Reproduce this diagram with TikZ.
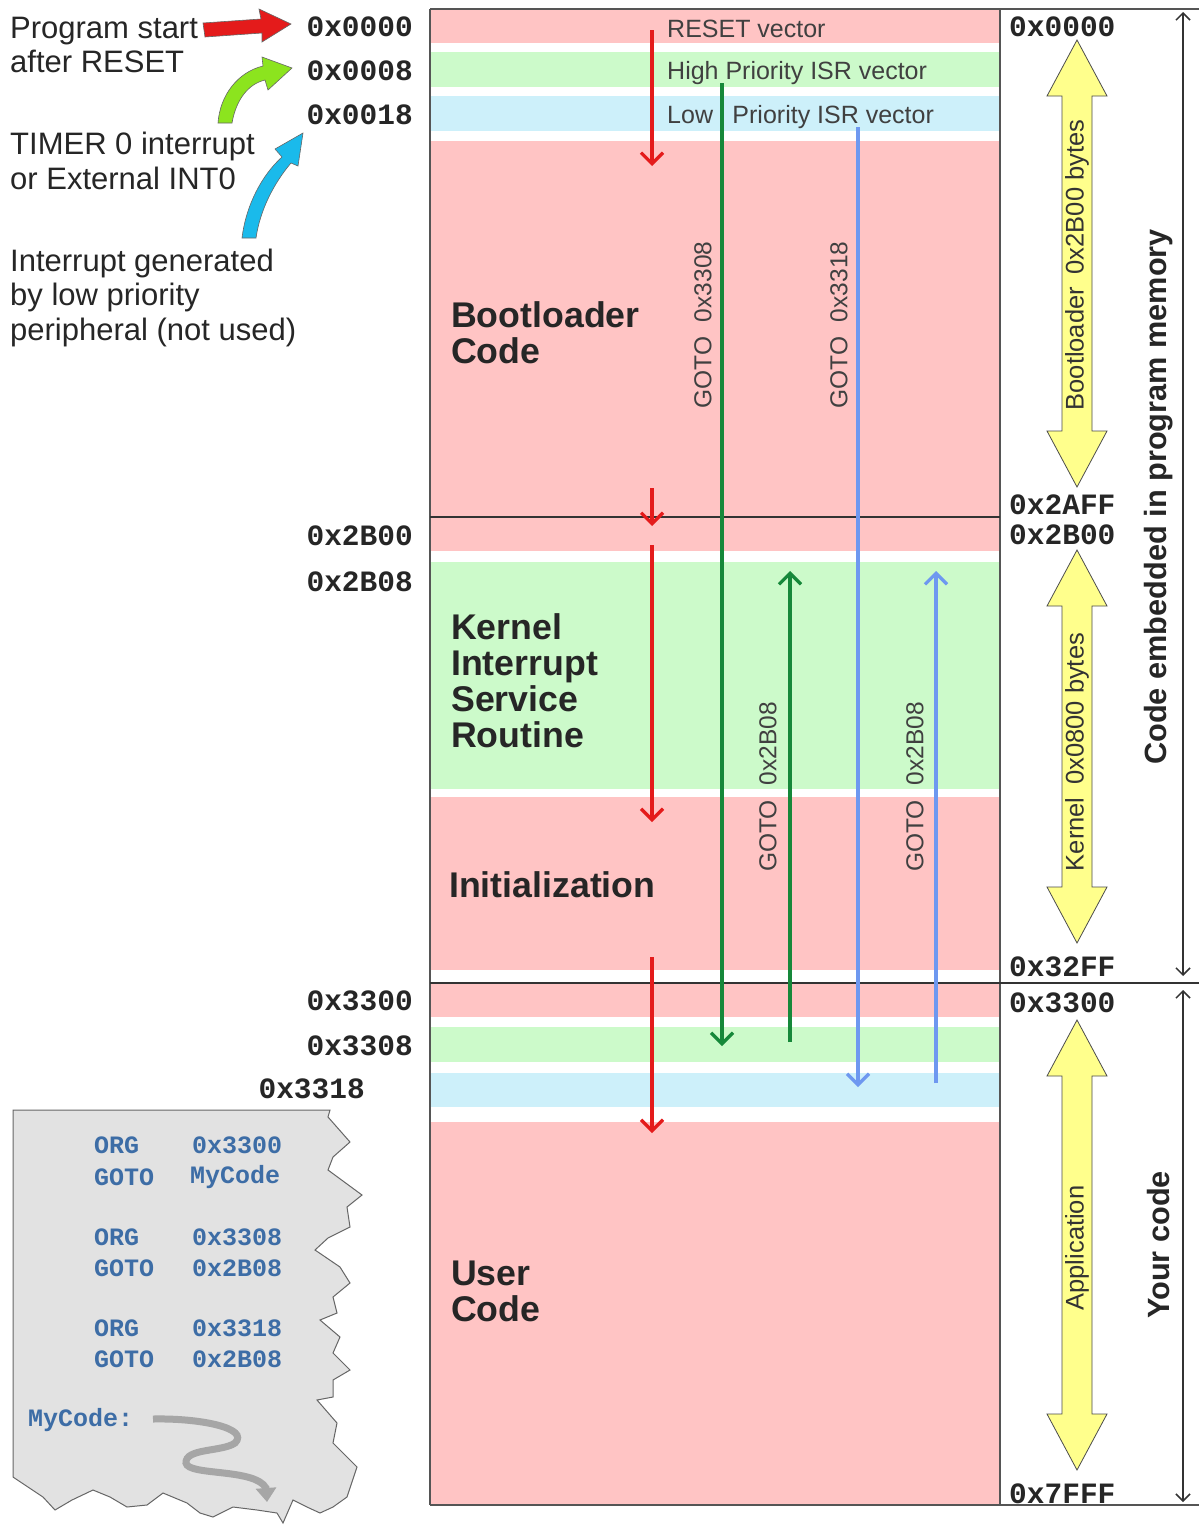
\documentclass[tikz,border=0pt]{standalone}
\usepackage{fontspec}
\setmainfont{Liberation Sans}
\setmonofont{Liberation Mono}
\usetikzlibrary{arrows.meta}
\definecolor{mpink}{HTML}{FFC4C4}
\definecolor{mgreen}{HTML}{CCFACA}
\definecolor{mblue}{HTML}{CDF0FA}
\definecolor{ared}{HTML}{E41B1B}
\definecolor{agreen}{HTML}{16883A}
\definecolor{ablue}{HTML}{6E98F0}
\definecolor{frame}{HTML}{555555}
\definecolor{ayellow}{HTML}{FFFF8C}
\definecolor{codeblue}{HTML}{3D6DA6}
\definecolor{paper}{HTML}{E2E2E2}
\begin{document}
\begin{tikzpicture}[x=1pt,y=-1pt,
  hexl/.style={font=\fontsize{29.5}{32}\selectfont\ttfamily\bfseries, text=black!85, inner sep=0},
  lefttxt/.style={font=\fontsize{31}{34}\selectfont, anchor=base west, inner sep=0, text=black!85},
  vectxt/.style={font=\fontsize{25}{28}\selectfont, anchor=base west, inner sep=0, text=black!75},
  bigtxt/.style={font=\fontsize{35.7}{36}\selectfont\bfseries, anchor=north west, inner sep=0, align=left, text=black!85},
  gototxt/.style={font=\fontsize{24.5}{26}\selectfont, rotate=90, inner sep=0, text=black!75},
  yeltxt/.style={font=\fontsize{25.5}{27}\selectfont, rotate=90, inner sep=0, text=black!80},
  sidetxt/.style={font=\fontsize{30.7}{34}\selectfont\bfseries, rotate=90, inner sep=0, text=black!85},
  codetxt/.style={font=\fontsize{25}{28}\selectfont\ttfamily\bfseries, text=codeblue, anchor=west, inner sep=0},
  flowarrow/.style={line width=3.5pt, -{Straight Barb[length=11pt,width=22pt,line width=3.2pt]}},
  yarrow/.style={draw=black!70, line width=0.8pt, fill=ayellow},
  dimarrow/.style={line width=1.5pt, black!80, {Straight Barb[length=7pt,width=14pt]}-{Straight Barb[length=7pt,width=14pt]}},
  blockarrow/.style={draw=black!60, line width=0.6pt}
]
\useasboundingbox (0,0) rectangle (1199,1531);
\fill[white] (0,0) rectangle (1199,1531);

% ---------------- memory bands ----------------
\fill[mpink]  (430,9)   rectangle (1000,43);
\fill[mgreen] (430,52)  rectangle (1000,87);
\fill[mblue]  (430,96)  rectangle (1000,131);
\fill[mpink]  (430,141) rectangle (1000,551);
\fill[mgreen] (430,562) rectangle (1000,789);
\fill[mpink]  (430,797) rectangle (1000,970);
\fill[mpink]  (430,983) rectangle (1000,1017);
\fill[mgreen] (430,1027) rectangle (1000,1062);
\fill[mblue]  (430,1073) rectangle (1000,1107);
\fill[mpink]  (430,1122) rectangle (1000,1505);

% frame lines
\draw[frame, line width=1.2pt] (430,9) -- (1199,9);
\draw[frame, line width=1.2pt] (430,9) -- (430,1505);
\draw[frame, line width=1.2pt] (1000,9) -- (1000,1505);
\draw[frame, line width=1.2pt] (430,1505) -- (1199,1505);
\draw[black!80, line width=1.2pt] (430,517) -- (1000,517);
\draw[black!80, line width=1.2pt] (430,983) -- (1199,983);

% ---------------- vector labels ----------------
\node[vectxt] (vreset) at (667,37) {RESET vector};
\node[vectxt] (vhigh) at (667,79) {High Priority ISR vector};
\node[vectxt] (vlow) at (667,123) {Low\hspace{0.5em} Priority ISR vector};

% ---------------- big labels ----------------
\node[bigtxt] (boot) at (451,301) {Bootloader\\Code};
\node[bigtxt] (kern) at (451,613) {Kernel\\Interrupt\\Service\\Routine};
\node[bigtxt] (init) at (449,871) {Initialization};
\node[bigtxt] (user) at (451,1261) {User\\Code};

% ---------------- flow arrows ----------------
\coordinate (r1s) at (652,30);  \coordinate (r1e) at (652,166);
\coordinate (r2s) at (652,488); \coordinate (r2e) at (652,526);
\coordinate (r3s) at (652,545); \coordinate (r3e) at (652,822);
\coordinate (r4s) at (652,957); \coordinate (r4e) at (652,1133);
\draw[ared, flowarrow] (r1s) -- (r1e);
\draw[ared, flowarrow] (r2s) -- (r2e);
\draw[ared, flowarrow] (r3s) -- (r3e);
\draw[ared, flowarrow] (r4s) -- (r4e);

\coordinate (g1s) at (722,83);   \coordinate (g1e) at (722,1046);
\coordinate (b1s) at (858,127);  \coordinate (b1e) at (858,1087);
\coordinate (g2s) at (790,1042); \coordinate (g2e) at (790,571);
\coordinate (b2s) at (936,1083); \coordinate (b2e) at (936,571);
\draw[agreen, flowarrow] (g1s) -- (g1e);
\draw[ablue, flowarrow] (b1s) -- (b1e);
\draw[agreen, flowarrow] (g2s) -- (g2e);
\draw[ablue, flowarrow] (b2s) -- (b2e);

\node[gototxt] (go1) at (703,325) {GOTO\hspace{0.6em}0x3308};
\node[gototxt] (go2) at (839,325) {GOTO\hspace{0.6em}0x3318};
\node[gototxt] (go3) at (768,787) {GOTO\hspace{0.6em}0x2B08};
\node[gototxt] (go4) at (915,787) {GOTO\hspace{0.6em}0x2B08};

% ---------------- left hex labels ----------------
\node[hexl, anchor=east] (l0000) at (413,27) {0x0000};
\node[hexl, anchor=east] (l0008) at (413,71) {0x0008};
\node[hexl, anchor=east] (l0018) at (413,115) {0x0018};
\node[hexl, anchor=east] (l2B00) at (413,536) {0x2B00};
\node[hexl, anchor=east] (l2B08) at (413,582) {0x2B08};
\node[hexl, anchor=east] (l3300) at (413,1001) {0x3300};
\node[hexl, anchor=east] (l3308) at (413,1046) {0x3308};
\node[hexl, anchor=east] (l3318) at (365,1089) {0x3318};

% ---------------- right hex labels ----------------
\node[hexl, anchor=west] (r0000) at (1009,27) {0x0000};
\node[hexl, anchor=west] (r2AFF) at (1009,505) {0x2AFF};
\node[hexl, anchor=west] (r2B00) at (1009,535) {0x2B00};
\node[hexl, anchor=west] (r32FF) at (1009,967) {0x32FF};
\node[hexl, anchor=west] (r3300) at (1009,1003) {0x3300};
\node[hexl, anchor=west] (r7FFF) at (1009,1494) {0x7FFF};

% ---------------- yellow double arrows ----------------
\newcommand{\yelarrow}[3]{% x, top tip, bottom tip
  \path[yarrow] (#1,#2) -- (#1+30,#2+56) -- (#1+15,#2+56) -- (#1+15,#3-56) -- (#1+30,#3-56)
   -- (#1,#3) -- (#1-30,#3-56) -- (#1-15,#3-56) -- (#1-15,#2+56) -- (#1-30,#2+56) -- cycle;}
\yelarrow{1077}{40}{487}
\yelarrow{1077}{550}{943}
\yelarrow{1077}{1020}{1470}
\node[yeltxt] (ybl) at (1077,265) {Bootloader\hspace{0.5em}0x2B00 bytes};
\node[yeltxt] (ykn) at (1077,752) {Kernel\hspace{0.5em}0x0800 bytes};
\node[yeltxt] (yap) at (1077,1248) {Application};

% ---------------- right side dimension arrows ----------------
\coordinate (d1t) at (1183,12);  \coordinate (d1b) at (1183,976);
\coordinate (d2t) at (1183,990); \coordinate (d2b) at (1183,1502);
\draw[dimarrow] (d1t) -- (d1b);
\draw[dimarrow] (d2t) -- (d2b);
\node[sidetxt] (emb) at (1159,497) {Code embedded in program memory};
\node[sidetxt] (your) at (1159,1245) {Your code};

% ---------------- left texts ----------------
\node[lefttxt] (ps1) at (10,38) {Program start};
\node[lefttxt] (ps2) at (10,72) {after RESET};
\node[lefttxt] (tm1) at (10,154) {TIMER 0 interrupt};
\node[lefttxt] (tm2) at (10,189) {or External INT0};
\node[lefttxt] (ig1) at (10,271) {Interrupt generated};
\node[lefttxt] (ig2) at (10,305) {by low priority};
\node[lefttxt] (ig3) at (10,340) {peripheral (not used)};

% block arrows
\path[blockarrow, fill=ared] (203,23) -- (261,19) -- (259,9) -- (291,24) -- (262,42) -- (262,33) -- (205,37) -- cycle;
\path[blockarrow, fill={rgb,255:red,140;green,228;blue,30}] (218,123) .. controls (220,95) and (238,72) .. (263,66) -- (262,57) -- (292,68) -- (268,90) -- (265,80) .. controls (248,84) and (236,100) .. (232,123) -- cycle;
\path[blockarrow, fill={rgb,255:red,26;green,186;blue,235}] (242,238) .. controls (246,205) and (262,175) .. (282,157) -- (275,149) -- (303,133) -- (298,166) -- (291,163) .. controls (274,183) and (260,210) .. (256,238) -- cycle;

% ---------------- code paper ----------------
\path[draw=black!60, line width=1pt, fill=paper]
  (13,1110) -- (330,1110) -- (328,1117) -- (350,1142) -- (333,1157) -- (328,1170) -- (362,1195)
  -- (347,1207) -- (350,1227) -- (328,1238) -- (315,1250) -- (340,1267) -- (350,1283) -- (333,1297)
  -- (337,1313) -- (320,1320) -- (340,1337) -- (333,1353) -- (350,1370) -- (333,1380) -- (333,1397)
  -- (317,1400) -- (337,1423) -- (333,1443) -- (357,1467) -- (347,1497) -- (333,1507) -- (320,1513)
  -- (307,1507) -- (293,1500) -- (283,1523) -- (277,1513) -- (257,1510) -- (233,1507) -- (213,1517)
  -- (200,1513) -- (187,1503) -- (163,1493) -- (147,1505) -- (127,1507) -- (110,1497) -- (93,1490)
  -- (72,1500) -- (55,1510) -- (43,1497) -- (13,1477) -- cycle;

\node[codetxt] (c1a) at (94,1145) {ORG};
\node[codetxt] (c1b) at (192,1145) {0x3300};
\node[codetxt] (c2a) at (94,1177) {GOTO};
\node[codetxt] (c2b) at (190,1177) {MyCode};
\node[codetxt] (c3a) at (94,1237) {ORG};
\node[codetxt] (c3b) at (192,1237) {0x3308};
\node[codetxt] (c4a) at (94,1268) {GOTO};
\node[codetxt] (c4b) at (192,1268) {0x2B08};
\node[codetxt] (c5a) at (94,1328) {ORG};
\node[codetxt] (c5b) at (192,1328) {0x3318};
\node[codetxt] (c6a) at (94,1359) {GOTO};
\node[codetxt] (c6b) at (192,1359) {0x2B08};
\node[codetxt] (mc) at (28,1420) {MyCode:};

\coordinate (sq) at (153,1419);
\coordinate (sqe) at (267,1502);
\draw[black!35, line width=7pt, -{Triangle[length=14pt,width=20pt]}]
  (sq) .. controls (200,1418) and (250,1428) .. (235,1443)
  .. controls (222,1452) and (185,1448) .. (186,1463)
  .. controls (188,1476) and (255,1468) .. (266,1488) -- (sqe);
\end{tikzpicture}
\end{document}
